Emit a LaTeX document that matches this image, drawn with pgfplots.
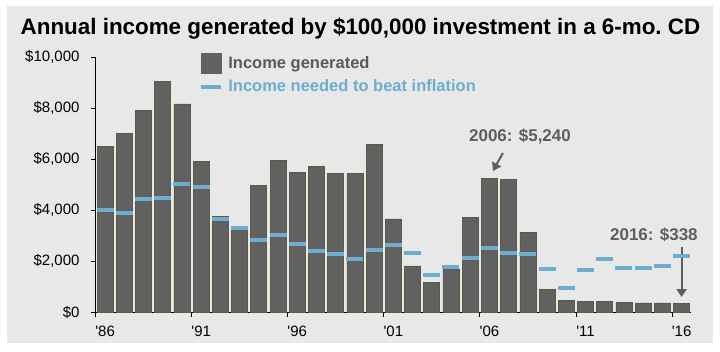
\documentclass[border=0pt]{standalone}
\usepackage{pgfplots}
\pgfplotsset{compat=1.18}
\usepackage{fontspec}
\setmainfont{Liberation Sans}[Ligatures=TeXOff]
\usetikzlibrary{arrows.meta}
\definecolor{bg}{HTML}{E8E8E8}
\definecolor{barfill}{HTML}{616161}
\definecolor{baredge}{HTML}{5C5B40}
\definecolor{infl}{HTML}{6BAED0}
\definecolor{legtext}{HTML}{5A5A5A}
\definecolor{anno}{HTML}{5E5E5E}
\begin{document}
\begin{tikzpicture}[x=1pt,y=1pt]
\fill[white] (-95.5,-38.7) rectangle (624.5,312.3);
\fill[bg] (-88.5,-30.7) rectangle (617.5,306.3);
\node[anchor=base, inner sep=0pt, font=\bfseries\fontsize{22.4}{24}\selectfont] at (265,277.3) {Annual income generated by \$100,000 investment in a 6-mo.\ CD};
\begin{axis}[
  scale only axis, width=595.7pt, height=255pt,
  xmin=1985.5, xmax=2016.5, ymin=0, ymax=10000,
  axis lines*=left,
  axis line style={black, line width=0.8pt},
  tick align=outside,
  major tick length=4.5pt,
  tick style={black, line width=0.8pt},
  xtick={1985.5,1990.5,1995.5,2000.5,2005.5,2010.5,2015.5},
  xticklabels={},
  extra x ticks={1986,1991,1996,2001,2006,2011,2016},
  extra x tick labels={'86,'91,'96,'01,'06,'11,'16},
  extra x tick style={major tick length=0pt},
  scaled y ticks=false,
  ytick={0,2000,4000,6000,8000,10000},
  yticklabels={\$0,{\$2,000},{\$4,000},{\$6,000},{\$8,000},{\$10,000}},
  tick label style={font=\fontsize{15}{17}\selectfont},
  yticklabel style={xshift=-8pt},
  xticklabel style={yshift=-10pt},
  clip=false,
  legend style={draw=none, fill=none, at={(0.174,1.017)}, anchor=north west,
    inner sep=0pt, row sep=4pt,
    /tikz/every odd column/.append style={column sep=3pt},
    font=\bfseries\fontsize{16.5}{18}\selectfont},
  legend cell align=left,
]
\addplot[ybar, bar width=16pt, fill=barfill, draw=baredge, line width=0.7pt,
  legend image code/.code={\fill[barfill] (0pt,-10pt) rectangle (20pt,10pt);}]
coordinates {
(1986,6500) (1987,7010) (1988,7910) (1989,9070) (1990,8170) (1991,5910)
(1992,3760) (1993,3240) (1994,4970) (1995,5970) (1996,5480) (1997,5730)
(1998,5440) (1999,5450) (2000,6590) (2001,3660) (2002,1820) (2003,1180)
(2004,1700) (2005,3730) (2006,5240) (2007,5220) (2008,3140) (2009,890)
(2010,460) (2011,420) (2012,440) (2013,390) (2014,370) (2015,370) (2016,338)
};
\addlegendentry{\textcolor{legtext}{Income generated}}
\addplot[only marks, mark=-, mark size=8.5pt, mark options={line width=4pt, draw=infl},
  legend image code/.code={\draw[infl, line width=4pt] (0pt,0pt) -- (20pt,0pt);}]
coordinates {
(1986,4030) (1987,3910) (1988,4430) (1989,4480) (1990,5020) (1991,4920)
(1992,3650) (1993,3310) (1994,2820) (1995,3020) (1996,2690) (1997,2390)
(1998,2290) (1999,2080) (2000,2440) (2001,2650) (2002,2330) (2003,1460)
(2004,1760) (2005,2140) (2006,2510) (2007,2340) (2008,2290) (2009,1700)
(2010,950) (2011,1660) (2012,2100) (2013,1750) (2014,1740) (2015,1830) (2016,2210)
};
\addlegendentry{\textcolor{infl}{Income needed to beat inflation}}
\node[anno, font=\bfseries\fontsize{17}{19}\selectfont] at (axis cs:2007.59,6875) {2006: \$5,240};
\draw[anno, line width=2pt, -{Triangle[length=8pt,width=10pt]}] (axis cs:2006.7,6247) -- (axis cs:2006.18,5541);
\node[anno, font=\bfseries\fontsize{17}{19}\selectfont] at (axis cs:2014.56,3031) {2016: \$338};
\draw[anno, line width=2pt, -{Triangle[length=8pt,width=10pt]}] (axis cs:2016,2561) -- (axis cs:2016,600);
\end{axis}
\end{tikzpicture}
\end{document}
